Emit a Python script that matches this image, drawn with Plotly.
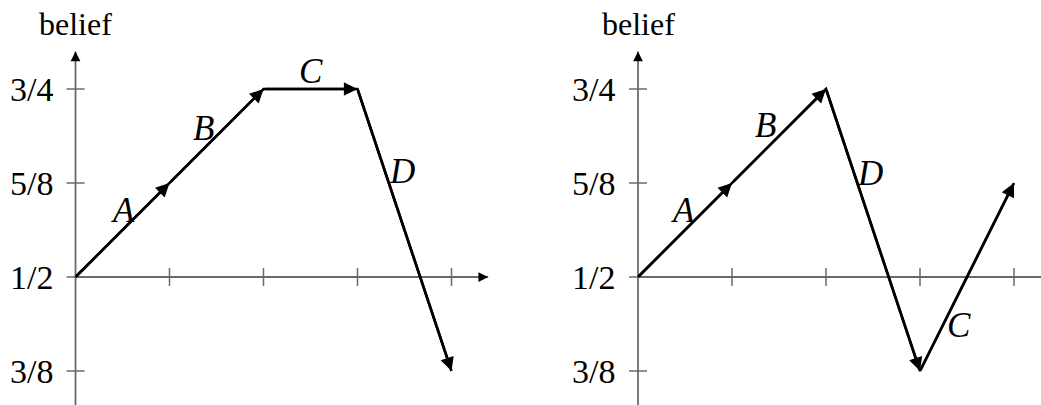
import plotly.graph_objects as go

# data
steps = [0, 1, 2, 3, 4]
left_belief = [1/2, 5/8, 3/4, 3/4, 3/8]
left_names = ['A', 'B', 'C', 'D']
right_belief = [1/2, 5/8, 3/4, 3/8, 5/8]
right_names = ['A', 'B', 'D', 'C']
ytick_vals = [3/8, 1/2, 5/8, 3/4]
ytick_text = ['3/8', '1/2', '5/8', '3/4']
axis_title = 'belief'

# where the segment names sit (data coords)
left_lab_x = [0.50, 1.36, 2.50, 3.47]
left_lab_y = [0.589, 0.697, 0.773, 0.640]
right_lab_x = [0.48, 1.36, 2.47, 3.42]
right_lab_y = [0.588, 0.701, 0.637, 0.436]

FONT = 'Liberation Serif'
AXC = '#6a6a6a'
X_END = 4.39
Y_TOP = 0.80
Y_BOT = 0.30
TX = 0.096    # half tick length along x (data units)
TY = 0.012    # half tick length along y

fig = go.Figure()
annotations = []


def add_panel(xa, ya, belief, names, lab_x, lab_y):
	xref, yref = xa.replace('axis', ''), ya.replace('axis', '')
	# axes
	fig.add_trace(go.Scatter(
		x=[0, X_END, None, 0, 0], y=[0.5, 0.5, None, Y_BOT, Y_TOP],
		mode='lines', line=dict(color=AXC, width=1.8),
		hoverinfo='none', xaxis=xref, yaxis=yref))
	tx, ty = [], []
	for s in steps[1:]:
		tx += [s, s, None]
		ty += [0.5 - TY, 0.5 + TY, None]
	for v in ytick_vals:
		tx += [-TX, TX, None]
		ty += [v, v, None]
	fig.add_trace(go.Scatter(
		x=tx, y=ty, mode='lines', line=dict(color=AXC, width=1.5),
		hoverinfo='none', xaxis=xref, yaxis=yref))
	# axis arrow heads
	for (hx, hy, bx, by) in [(X_END, 0.5, X_END - 0.05, 0.5), (0, Y_TOP, 0, Y_TOP - 0.006)]:
		annotations.append(dict(
			x=hx, y=hy, ax=bx, ay=by, xref=xref, yref=yref, axref=xref, ayref=yref,
			text='', showarrow=True, arrowhead=2, arrowsize=1.3, arrowwidth=1.5,
			arrowcolor='black'))
	# belief path
	fig.add_trace(go.Scatter(
		x=steps, y=belief, mode='lines', line=dict(color='black', width=2.6),
		hoverinfo='none', xaxis=xref, yaxis=yref))
	for i in range(len(steps) - 1):
		annotations.append(dict(
			x=steps[i+1], y=belief[i+1], ax=steps[i], ay=belief[i],
			xref=xref, yref=yref, axref=xref, ayref=yref,
			text='', showarrow=True, arrowhead=2, arrowsize=1.05, arrowwidth=2.6,
			arrowcolor='black', standoff=0, startstandoff=0))
		annotations.append(dict(
			x=lab_x[i], y=lab_y[i], xref=xref, yref=yref, showarrow=False,
			text='<i>' + names[i] + '</i>', font=dict(family=FONT, size=35, color='black')))
	# tick labels
	for v, t in zip(ytick_vals, ytick_text):
		annotations.append(dict(
			x=-0.22, y=v, xref=xref, yref=yref, showarrow=False, xanchor='right',
			text=t, font=dict(family=FONT, size=34, color='black')))
	annotations.append(dict(
		x=0, y=0.837, xref=xref, yref=yref, showarrow=False,
		text=axis_title, font=dict(family=FONT, size=32, color='black')))


add_panel('xaxis', 'yaxis', left_belief, left_names, left_lab_x, left_lab_y)
add_panel('xaxis2', 'yaxis2', right_belief, right_names, right_lab_x, right_lab_y)

yr = [0.5 - 128/752, 0.5 + 277/752]
hidden = dict(visible=False, showgrid=False, zeroline=False, fixedrange=True)
fig.update_layout(
	width=1041, height=405,
	showlegend=False,
	margin=dict(l=0, r=0, t=0, b=0),
	plot_bgcolor='white', paper_bgcolor='white',
	xaxis=dict(domain=[0, 0.5], range=[-75.5/94, 445/94], **hidden),
	yaxis=dict(range=yr, **hidden),
	xaxis2=dict(domain=[0.5, 1], range=[-117.5/94, 403/94], **hidden),
	yaxis2=dict(range=yr, anchor='x2', **hidden),
	annotations=annotations,
)

fig.write_html('out.html', config={'displayModeBar': False},
			   post_script="document.body.style.margin='0';")
